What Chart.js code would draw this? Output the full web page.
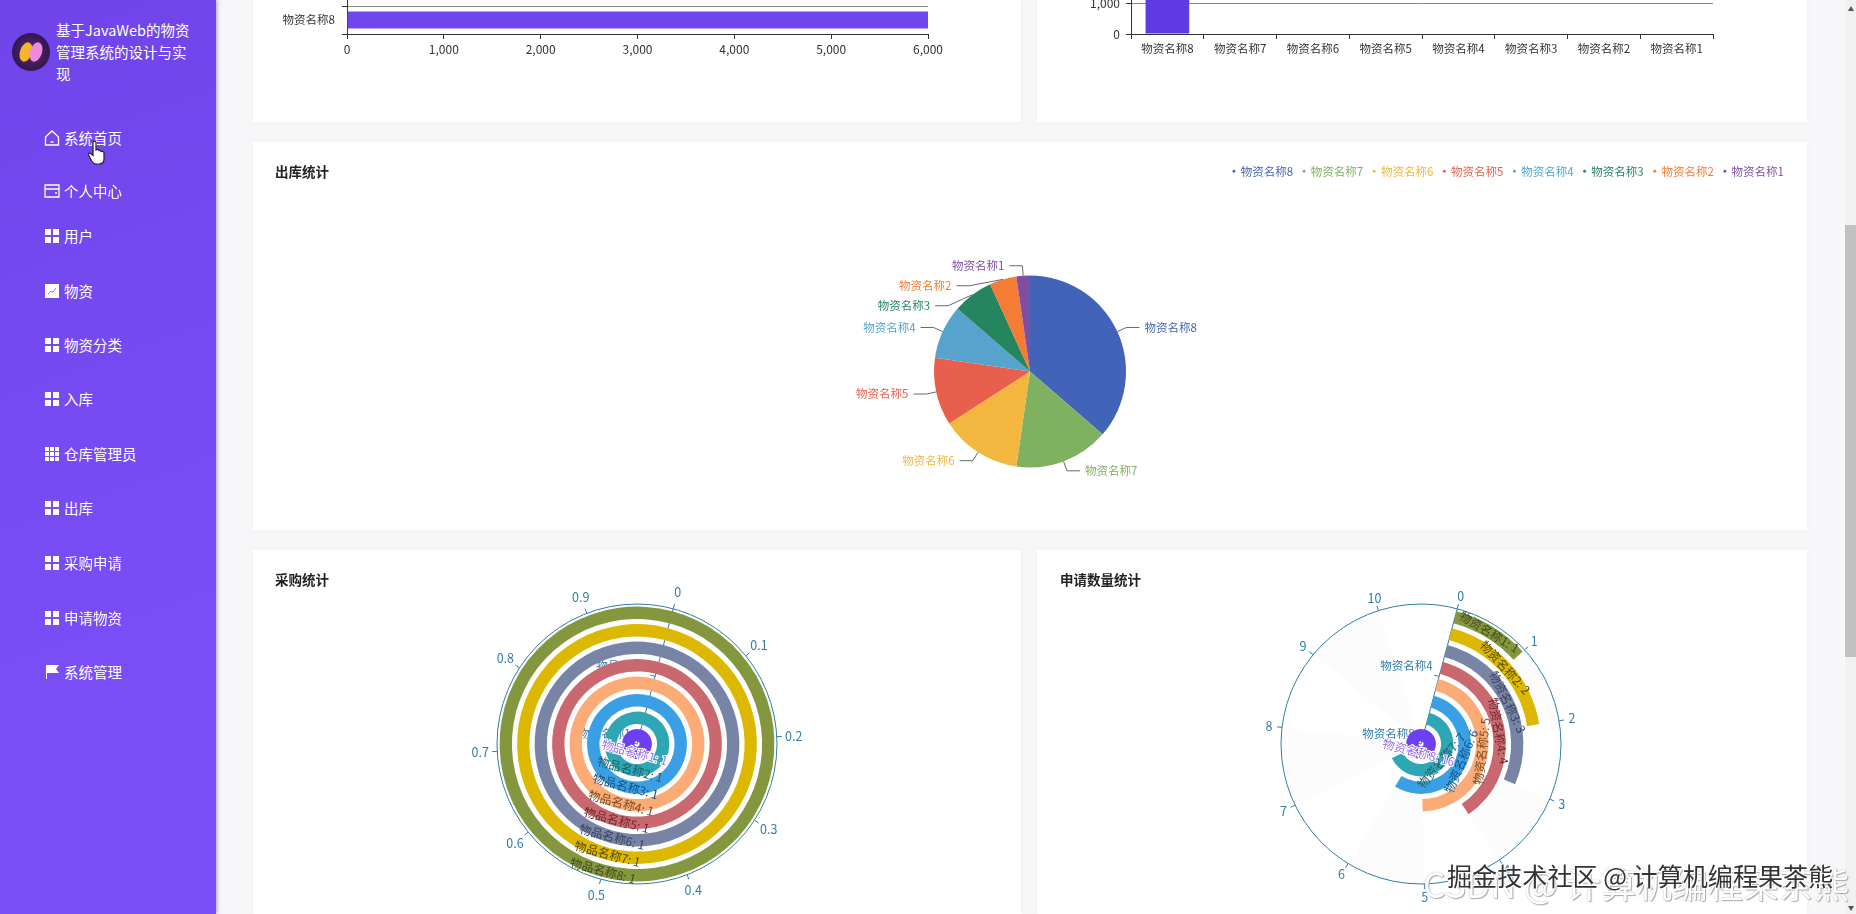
<!DOCTYPE html>
<html lang="zh-CN">
<head>
<meta charset="utf-8">
<title>基于JavaWeb的物资管理系统的设计与实现</title>
<script src="https://cdn.jsdelivr.net/npm/chart.js@4/dist/chart.umd.min.js"></script>
<style>
	html, body { margin: 0; padding: 0; width: 1856px; height: 914px; overflow: hidden; background: #f7f7f9; font-family: "Noto Sans CJK SC", sans-serif; }
	#side { position: absolute; left: 0; top: 0; width: 216px; height: 914px; background: linear-gradient(160deg, #6f45ea, #7a4ef6 70%); box-shadow: 1px 0 4px rgba(90, 70, 170, .5); z-index: 5; }
	#logo { position: absolute; left: 12px; top: 33px; width: 38px; height: 38px; border-radius: 50%; background: radial-gradient(circle, #5a2a6e, #31154f 75%); }
	#logo i { position: absolute; top: 9px; width: 12px; height: 20px; border-radius: 50%; transform: rotate(18deg); }
	#logo .a { left: 8px; background: #f6b52c; }
	#logo .b { left: 18px; background: #ee8ade; }
	#brand { position: absolute; left: 56px; top: 19px; width: 136px; color: #fff; font-size: 14.5px; line-height: 22px; }
	.nav { position: absolute; left: 44px; height: 20px; color: #fff; font-size: 14.5px; line-height: 20px; white-space: nowrap; }
	.nav svg { position: absolute; left: 0; top: 2px; }
	.nav span { position: absolute; left: 20px; }
	#hand { position: absolute; left: 87px; top: 140px; z-index: 6; }
	.card { position: absolute; background: #fff; box-shadow: 0 0 6px rgba(120, 120, 140, .05); }
	.title { position: absolute; font-size: 13.5px; font-weight: 700; color: #222; line-height: 18px; z-index: 3; }
	canvas { position: absolute; }
	#track { position: absolute; left: 1845px; top: 0; width: 11px; height: 914px; background: #f1f1f1; }
	#thumb { position: absolute; left: 1845px; top: 225px; width: 11px; height: 432px; background: #c1c1c1; }
	.arrow { position: absolute; left: 1848px; width: 0; height: 0; border-left: 3px solid transparent; border-right: 3px solid transparent; }
	#mark2, #mark1 { position: absolute; white-space: nowrap; z-index: 4; }
	#mark2 { left: 1423px; top: 862px; font-size: 35.5px; line-height: 42px; color: #fff; text-shadow: 0 0 1px #999, 1px 1px 1px #aaa; }
	#mark1 { left: 1447px; top: 858px; font-size: 25.1px; line-height: 34px; color: #333; text-shadow: 1px 1px 0 #fff, -1px -1px 0 #fff; }
</style>
</head>
<body>
<div id="side">
	<div id="logo"><i class="a"></i><i class="b"></i></div>
	<div id="brand">基于JavaWeb的物资管理系统的设计与实现</div>
</div>
<svg id="hand" width="20" height="26" viewBox="0 0 20 26"><path d="M6 2c1-1.500 3-1 3 .5V10l1-.5c1-.5 2 0 2 1 1-.5 2 0 2 1 1-.5 3 0 3 1.500V19c0 3-2 5-5 5H9c-2 0-3-1-4-2.500L1.500 15c-.8-1.500 1-2.500 2-1.500L6 15.500z" fill="#fff" stroke="#222" stroke-width="1.200"/></svg>

<div class="card" style="left:253px;top:0;width:768px;height:122px"></div>
<div class="card" style="left:1037px;top:0;width:770px;height:122px"></div>
<div class="card" style="left:253px;top:142px;width:1554px;height:388px"></div>
<div class="card" style="left:253px;top:550px;width:768px;height:364px"></div>
<div class="card" style="left:1037px;top:550px;width:770px;height:364px"></div>

<div class="title" style="left:275px;top:162px">出库统计</div>
<div class="title" style="left:275px;top:570px">采购统计</div>
<div class="title" style="left:1060px;top:570px">申请数量统计</div>

<canvas id="stockBar" width="768" height="300" style="left:253px;top:-221px"></canvas>
<canvas id="stockColumn" width="770" height="300" style="left:1037px;top:-221px"></canvas>
<canvas id="outPie" width="1554" height="414" style="left:253px;top:142px"></canvas>
<canvas id="purchasePolar" width="768" height="390" style="left:253px;top:549px"></canvas>
<canvas id="requestPolar" width="770" height="390" style="left:1036px;top:549px"></canvas>

<div id="track"></div>
<div id="thumb"></div>
<div class="arrow" style="top:6px;border-bottom:5px solid #555"></div>
<div class="arrow" style="top:906px;border-top:5px solid #555"></div>
<div id="mark2">CSDN @ 计算机编程果茶熊</div>
<div id="mark1">掘金技术社区 @ 计算机编程果茶熊</div>

<script>
	'use strict';

	const navNames = ['系统首页', '个人中心', '用户', '物资', '物资分类', '入库', '仓库管理员', '出库', '采购申请', '申请物资', '系统管理'];
	const navIcons = ['home', 'wallet', 'grid', 'trend', 'grid', 'grid', 'table', 'grid', 'grid', 'grid', 'flag'];
	const navTops = [128, 181, 226, 281, 335, 389, 444, 498, 553, 608, 662];

	const stockBarNames = ['物资名称1', '物资名称2', '物资名称3', '物资名称4', '物资名称5', '物资名称6', '物资名称7', '物资名称8'];
	const stockBarValues = [0, 0, 0, 0, 0, 0, 0, 6000];
	const stockColumnNames = ['物资名称8', '物资名称7', '物资名称6', '物资名称5', '物资名称4', '物资名称3', '物资名称2', '物资名称1'];
	const stockColumnValues = [6000, 0, 0, 0, 0, 0, 0, 0];

	const outNames = ['物资名称8', '物资名称7', '物资名称6', '物资名称5', '物资名称4', '物资名称3', '物资名称2', '物资名称1'];
	const outValues = [16, 7, 6, 5, 4, 3, 2, 1];
	const outColors = ['#4264b8', '#7fb160', '#f3b63f', '#e8604d', '#56a4cd', '#24855f', '#f47c35', '#7d4ea2'];

	// rings are listed from the outermost one inwards
	const purchaseNames = ['物品名称8', '物品名称7', '物品名称6', '物品名称5', '物品名称4', '物品名称3', '物品名称2', '物品名称1'];
	const purchaseValues = [1, 1, 1, 1, 1, 1, 1, 1];
	const purchaseTicks = [0, 0.1, 0.2, 0.3, 0.4, 0.5, 0.6, 0.7, 0.8, 0.9];
	const purchaseMax = 1;

	const requestNames = ['物资名称1', '物资名称2', '物资名称3', '物资名称4', '物资名称5', '物资名称6', '物资名称7', '物资名称8'];
	const requestValues = [1, 2, 3, 4, 5, 6, 7, 16];
	const requestTicks = [0, 1, 2, 3, 4, 5, 6, 7, 8, 9, 10];
	const requestMax = 11;

	const ringColors = ['#84973e', '#dcb800', '#7784a5', '#c9686e', '#fbab76', '#3b9fe6', '#2fa6b4', '#6c3ff0'];
	const ringTextColors = ['#3f4a1c', '#554800', '#39425e', '#6b2a30', '#7a4a22', '#17507f', '#1d6169', '#9a6cf8'];

	const axisBlue = '#2f7da8';
	const fontFamily = '"Noto Sans CJK SC", sans-serif';

	Chart.defaults.font.family = fontFamily;
	Chart.defaults.font.size = 11.5;
	Chart.defaults.color = '#333';
	Chart.defaults.animation = false;
	Chart.defaults.responsive = false;
	Chart.defaults.plugins.legend.display = false;
	Chart.defaults.plugins.tooltip.enabled = false;

	function navIcon(kind) {
		let shape = '';
		if (kind === 'grid') {
			shape = '<path fill="#fff" d="M1 1h6v6H1zM9 1h6v6H9zM1 9h6v6H1zM9 9h6v6H9z"/>';
		} else if (kind === 'table') {
			shape = '<path fill="#fff" d="M1 1h4v4H1zM6 1h4v4H6zM11 1h4v4h-4zM1 6h4v4H1zM6 6h4v4H6zM11 6h4v4h-4zM1 11h4v4H1zM6 11h4v4H6zM11 11h4v4h-4z"/>';
		} else if (kind === 'home') {
			shape = '<path fill="none" stroke="#fff" stroke-width="1.300" d="M1.500 7L8 1l6.500 6v8h-13zM6.500 12h3"/>';
		} else if (kind === 'wallet') {
			shape = '<path fill="none" stroke="#fff" stroke-width="1.300" d="M1 2h14v12H1zM1 6h14M11 10h2"/>';
		} else if (kind === 'trend') {
			shape = '<path fill="#fff" d="M1 1h14v14H1z"/><path fill="none" stroke="#9a80ee" d="M4 11l3-3 2 1 3-4"/>';
		} else if (kind === 'flag') {
			shape = '<path fill="#fff" d="M2 1h13l-3 4 3 4H3v6H2z"/>';
		}
		return '<svg width="16" height="16" viewBox="0 0 16 16">' + shape + '</svg>';
	}

	navNames.forEach(function (name, i) {
		let item = document.createElement('div');
		item.className = 'nav';
		item.style.top = navTops[i] + 'px';
		item.innerHTML = navIcon(navIcons[i]) + '<span>' + name + '</span>';
		document.getElementById('side').appendChild(item);
	});

	function fixWidth(scale) {
		scale.width = 94;
	}

	function fixHeight(scale) {
		scale.height = 45;
	}

	new Chart(document.getElementById('stockBar'), {
		type: 'bar',
		data: {
			labels: stockBarNames,
			datasets: [{ data: stockBarValues, backgroundColor: '#6f47ea', barPercentage: 0.6, categoryPercentage: 1 }]
		},
		options: {
			indexAxis: 'y',
			layout: { padding: { top: 31, right: 93 } },
			scales: {
				x: {
					min: 0,
					max: 6000,
					afterFit: fixHeight,
					border: { color: '#333' },
					grid: { drawOnChartArea: false, tickColor: '#333', tickLength: 5 },
					ticks: { stepSize: 1000, padding: 3, maxRotation: 0, font: { size: 12 } }
				},
				y: {
					afterFit: fixWidth,
					border: { color: '#333' },
					grid: { color: '#8a8a8a', tickColor: '#333', tickLength: 5 },
					ticks: { padding: 7 }
				}
			}
		}
	});

	new Chart(document.getElementById('stockColumn'), {
		type: 'bar',
		data: {
			labels: stockColumnNames,
			datasets: [{ data: stockColumnValues, backgroundColor: '#6039e2', barPercentage: 0.6, categoryPercentage: 1 }]
		},
		options: {
			layout: { padding: { top: 69, right: 94 } },
			scales: {
				x: {
					afterFit: fixHeight,
					border: { color: '#333' },
					grid: { drawOnChartArea: false, tickColor: '#333', tickLength: 5 },
					ticks: { padding: 3, maxRotation: 0, autoSkip: false, font: { size: 11.5 } }
				},
				y: {
					min: 0,
					max: 6000,
					afterFit: fixWidth,
					border: { color: '#333' },
					grid: { color: '#8a8a8a', tickColor: '#333', tickLength: 5 },
					ticks: { stepSize: 1000, padding: 6, font: { size: 12 } }
				}
			}
		}
	});

	// leader lines and labels of the pie, pushed apart where they would collide
	const pieLabels = {
		id: 'pieLabels',
		afterDatasetsDraw: function (chart) {
			let ctx = chart.ctx;
			let arcs = chart.getDatasetMeta(0).data;
			let items = arcs.map(function (arc, i) {
				let mid = (arc.startAngle + arc.endAngle) / 2;
				let out = arc.outerRadius + 10;
				return {
					arc: arc,
					i: i,
					mid: mid,
					left: Math.cos(mid) < 0,
					elbowX: arc.x + Math.cos(mid) * out,
					elbowY: arc.y + Math.sin(mid) * out
				};
			});

			[true, false].forEach(function (side) {
				let group = items.filter(function (it) { return it.left === side; });
				group.sort(function (a, b) { return a.elbowY - b.elbowY; });
				group.forEach(function (it, n) {
					if (n > 0 && it.elbowY < group[n - 1].elbowY + 20) {
						it.elbowY = group[n - 1].elbowY + 20;
						let r = it.arc.outerRadius + 9;
						let dy = it.elbowY - it.arc.y;
						let dx = Math.sqrt(Math.max(r * r - dy * dy, 0));
						it.elbowX = it.arc.x + (side ? -dx : dx);
					}
				});
			});

			ctx.save();
			ctx.font = '11.5px ' + fontFamily;
			ctx.textBaseline = 'middle';
			ctx.lineWidth = 1;
			items.forEach(function (it) {
				let sign = it.left ? -1 : 1;
				ctx.strokeStyle = '#666';
				ctx.beginPath();
				ctx.moveTo(it.arc.x + Math.cos(it.mid) * it.arc.outerRadius, it.arc.y + Math.sin(it.mid) * it.arc.outerRadius);
				ctx.lineTo(it.elbowX, it.elbowY);
				ctx.lineTo(it.elbowX + sign * 13, it.elbowY);
				ctx.stroke();
				ctx.fillStyle = outColors[it.i];
				ctx.textAlign = it.left ? 'right' : 'left';
				ctx.fillText(outNames[it.i], it.elbowX + sign * 18, it.elbowY);
			});
			ctx.restore();
		}
	};

	new Chart(document.getElementById('outPie'), {
		type: 'pie',
		data: {
			labels: outNames,
			datasets: [{ data: outValues, backgroundColor: outColors, borderWidth: 0 }]
		},
		options: {
			radius: 96,
			layout: { padding: { top: 13.5, left: 13, right: 13 } },
			plugins: {
				legend: {
					display: true,
					position: 'top',
					align: 'end',
					labels: {
						usePointStyle: true,
						boxWidth: 2,
						boxHeight: 2,
						padding: 10,
						font: { size: 11.5 },
						generateLabels: function () {
							return outNames.map(function (name, i) {
								return { text: name, fillStyle: outColors[i], strokeStyle: outColors[i], lineWidth: 0, fontColor: outColors[i], pointStyle: 'circle', hidden: false, index: i };
							});
						}
					}
				}
			}
		},
		plugins: [pieLabels]
	});

	// shrink each ring inside its band, the gaps of a polar bar chart
	const ringGap = {
		id: 'ringGap',
		afterDatasetsUpdate: function (chart) {
			chart.data.datasets.forEach(function (ds, i) {
				chart.getDatasetMeta(i).data.forEach(function (arc) {
					arc.innerRadius += 2.6;
					arc.outerRadius -= 2.6;
				});
			});
		}
	};

	// circular value axis and radial name axis, drawn under the rings
	const polarAxis = {
		id: 'polarAxis',
		beforeDatasetsDraw: function (chart, args, opts) {
			let ctx = chart.ctx;
			let first = chart.getDatasetMeta(0).data[0];
			let cx = first.x;
			let cy = first.y;
			let radius = first.outerRadius + 2.6;
			let start = first.startAngle;
			let band = radius / opts.names.length;
			let angleOf = function (v) { return start + v / opts.max * Math.PI * 2; };

			ctx.save();
			opts.ticks.forEach(function (v, i) {
				if (i % 2 === 0) {
					return;
				}
				let next = i + 1 < opts.ticks.length ? opts.ticks[i + 1] : opts.max;
				ctx.fillStyle = 'rgba(200, 200, 215, .06)';
				ctx.beginPath();
				ctx.moveTo(cx, cy);
				ctx.arc(cx, cy, radius, angleOf(v), angleOf(next));
				ctx.closePath();
				ctx.fill();
			});

			ctx.strokeStyle = axisBlue;
			ctx.fillStyle = axisBlue;
			ctx.lineWidth = 1;
			ctx.beginPath();
			ctx.arc(cx, cy, radius, 0, Math.PI * 2);
			ctx.stroke();

			ctx.font = '12.5px ' + fontFamily;
			ctx.textAlign = 'center';
			ctx.textBaseline = 'middle';
			opts.ticks.forEach(function (v) {
				let a = angleOf(v);
				ctx.beginPath();
				ctx.moveTo(cx + Math.cos(a) * radius, cy + Math.sin(a) * radius);
				ctx.lineTo(cx + Math.cos(a) * (radius + 5), cy + Math.sin(a) * (radius + 5));
				ctx.stroke();
				ctx.fillText(String(v), cx + Math.cos(a) * (radius + opts.labelGap), cy + Math.sin(a) * (radius + opts.labelGap));
			});

			let ux = Math.cos(start);
			let uy = Math.sin(start);
			ctx.beginPath();
			ctx.moveTo(cx, cy);
			ctx.lineTo(cx + ux * radius, cy + uy * radius);
			ctx.stroke();

			// category labels of the radial axis, every fourth band from the centre
			ctx.font = '11.5px ' + fontFamily;
			ctx.textAlign = 'right';
			let count = opts.names.length;
			for (let n = 0; n < count; n += 4) {
				let rr = (n + 0.5) * band;
				let tick = n * band;
				ctx.beginPath();
				ctx.moveTo(cx + ux * tick, cy + uy * tick);
				ctx.lineTo(cx + ux * tick + uy * 5, cy + uy * tick - ux * 5);
				ctx.stroke();
				ctx.fillText(opts.names[count - 1 - n], cx + ux * rr + uy * 9, cy + uy * rr - ux * 9);
			}
			ctx.restore();
		},
		afterDatasetsDraw: function (chart, args, opts) {
			let ctx = chart.ctx;
			ctx.save();
			ctx.font = '12px ' + fontFamily;
			ctx.textAlign = 'center';
			ctx.textBaseline = 'middle';
			chart.data.datasets.forEach(function (ds, i) {
				let arc = chart.getDatasetMeta(i).data[0];
				let mid = (arc.startAngle + arc.endAngle) / 2;
				let r = (arc.innerRadius + arc.outerRadius) / 2;
				let turn = mid + Math.PI / 2;
				if (Math.cos(turn) < 0) {
					turn -= Math.PI;
				}
				let text = opts.names[i] + ': ' + opts.values[i];
				ctx.save();
				ctx.translate(arc.x + Math.cos(mid) * r, arc.y + Math.sin(mid) * r);
				ctx.rotate(turn);
				if (i === chart.data.datasets.length - 1) {
					ctx.strokeStyle = '#fff';
					ctx.lineWidth = 2;
					ctx.strokeText(text, 0, 0);
				}
				ctx.fillStyle = ringTextColors[i];
				ctx.fillText(text, 0, 0);
				ctx.restore();
			});
			ctx.restore();
		}
	};

	function polarChart(id, names, values, ticks, max, labelGap) {
		return new Chart(document.getElementById(id), {
			type: 'doughnut',
			data: {
				labels: ['value', 'rest'],
				datasets: values.map(function (v, i) {
					return {
						data: [v, Math.max(max - v, 0)],
						backgroundColor: [ringColors[i], 'transparent'],
						borderWidth: 0
					};
				})
			},
			options: {
				radius: 140,
				cutout: 0,
				rotation: 15,
				plugins: {
					polarAxis: { names: names, values: values, ticks: ticks, max: max, labelGap: labelGap }
				}
			},
			plugins: [ringGap, polarAxis]
		});
	}

	polarChart('purchasePolar', purchaseNames, purchaseValues, purchaseTicks, purchaseMax, 17);
	polarChart('requestPolar', requestNames, requestValues, requestTicks, requestMax, 13);
</script>
</body>
</html>
